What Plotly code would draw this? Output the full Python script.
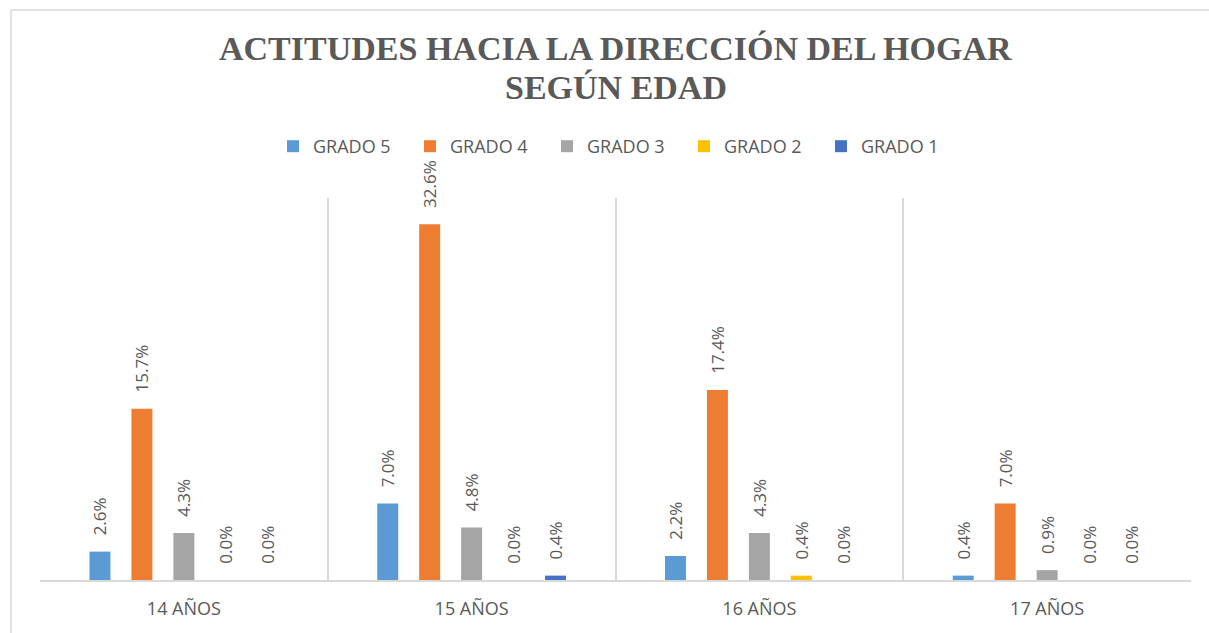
import plotly.graph_objects as go

categories = ["14 AÑOS", "15 AÑOS", "16 AÑOS", "17 AÑOS"]
series_names = ["GRADO 5", "GRADO 4", "GRADO 3", "GRADO 2", "GRADO 1"]
grado5 = [2.6, 7.0, 2.2, 0.4]
grado4 = [15.7, 32.6, 17.4, 7.0]
grado3 = [4.3, 4.8, 4.3, 0.9]
grado2 = [0.0, 0.0, 0.4, 0.0]
grado1 = [0.0, 0.4, 0.0, 0.0]
series_values = [grado5, grado4, grado3, grado2, grado1]
colors = ["#5B9BD5", "#ED7D31", "#A5A5A5", "#FFC000", "#4472C4"]

TXT = "#595959"
GRID = "#D9D9D9"

W, H = 1209, 633
PT, PB = 198, 580  # plot area top/bottom in figure px
PL, PR = 40, 1191
PH = PB - PT
PW = PR - PL

fig = go.Figure()
for name, vals, col in zip(series_names, series_values, colors):
    fig.add_trace(go.Bar(
        name=name, x=categories, y=vals,
        marker=dict(color=col, line=dict(width=0)),
        texttemplate="\u00a0\u00a0\u00a0%{y:.1f}%",
        textposition="outside", textangle=-90,
        textfont=dict(family="Open Sans", size=17, color=TXT),
        constraintext="none", cliponaxis=False,
        hoverinfo="skip",
    ))

bx = (11 - PL) / PW
by = (PB - 10) / PH
fig.update_layout(
    width=W, height=H,
    margin=dict(l=PL, r=W - PR, t=PT, b=H - PB),
    paper_bgcolor="white", plot_bgcolor="white",
    barmode="group", bargap=0.271, bargroupgap=0.5,
    showlegend=True,
    legend=dict(orientation="h", x=0.5, xanchor="center", y=(H - 165) / H, yanchor="bottom",
                yref="container", entrywidth=92, entrywidthmode="pixels",
                bgcolor="rgba(0,0,0,0)",
                font=dict(family="Open Sans", size=18, color=TXT),
                itemclick=False, itemdoubleclick=False, traceorder="normal"),
    xaxis=dict(type="category", showgrid=True, gridcolor=GRID, gridwidth=1.5,
               tickson="boundaries", ticks="", showline=True, linecolor=GRID,
               linewidth=1.5, tickfont=dict(family="Open Sans", size=18, color=TXT),
               ticklabelstandoff=12, range=[-0.5, 3.5], fixedrange=True),
    yaxis=dict(range=[0, 35], visible=False, showgrid=False, zeroline=False, fixedrange=True),
    annotations=[
        dict(text="<b>ACTITUDES HACIA LA DIRECCIÓN DEL HOGAR</b>", xref="paper", yref="paper",
             x=0.5, y=(PB - 68) / PH, xanchor="center", yanchor="bottom", showarrow=False,
             borderpad=0, font=dict(family="Liberation Serif", size=34, color=TXT)),
        dict(text="<b>SEGÚN EDAD</b>", xref="paper", yref="paper",
             x=0.5, y=(PB - 107) / PH, xanchor="center", yanchor="bottom", showarrow=False,
             borderpad=0, font=dict(family="Liberation Serif", size=34, color=TXT)),
    ],
    shapes=[
        dict(type="line", xref="paper", yref="paper", x0=bx, x1=bx, y0=-0.2, y1=by,
             line=dict(color=GRID, width=1.5), layer="below"),
        dict(type="line", xref="paper", yref="paper", x0=bx, x1=1.05, y0=by, y1=by,
             line=dict(color=GRID, width=1.5), layer="below"),
    ],
)

fig.write_html("out.html", config={"displayModeBar": False},
               post_script="document.body.style.margin='0';document.body.style.overflow='hidden';")
